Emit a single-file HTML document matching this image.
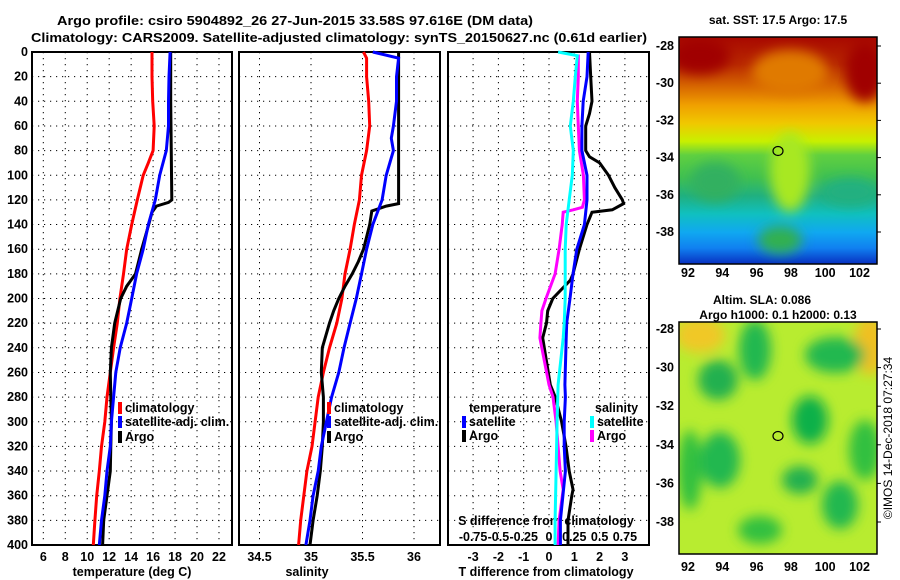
<!DOCTYPE html>
<html><head><meta charset="utf-8">
<style>
html,body{margin:0;padding:0;background:#fff;}
svg{display:block;font-family:"Liberation Sans",sans-serif;font-weight:bold;}
</style></head>
<body>
<svg id="fig" width="900" height="580" viewBox="0 0 900 580" xmlns="http://www.w3.org/2000/svg">
<defs>
<linearGradient id="sstGrad" x1="0" y1="0" x2="0" y2="1">
<stop offset="0" stop-color="#a80800"/><stop offset="0.12" stop-color="#b82800"/>
<stop offset="0.22" stop-color="#d86800"/><stop offset="0.3" stop-color="#f0a000"/>
<stop offset="0.38" stop-color="#f0c800"/><stop offset="0.46" stop-color="#c8f000"/>
<stop offset="0.52" stop-color="#60d040"/><stop offset="0.62" stop-color="#40c050"/>
<stop offset="0.7" stop-color="#20b080"/><stop offset="0.78" stop-color="#10c0c0"/>
<stop offset="0.86" stop-color="#10a8f0"/><stop offset="0.93" stop-color="#1080f0"/>
<stop offset="1" stop-color="#0830c0"/></linearGradient>
<filter id="blur6"><feGaussianBlur stdDeviation="6"/></filter>
<clipPath id="clipMap1"><rect x="679" y="37" width="198" height="227"/></clipPath>
<clipPath id="clipMap2"><rect x="679" y="322" width="198" height="232"/></clipPath>
</defs>
<text x="57" y="25" font-size="13" textLength="476" lengthAdjust="spacingAndGlyphs">Argo profile: csiro 5904892_26 27-Jun-2015 33.58S 97.616E (DM data)</text>
<text x="31" y="42" font-size="13" textLength="616" lengthAdjust="spacingAndGlyphs">Climatology: CARS2009. Satellite-adjusted climatology: synTS_20150627.nc (0.61d earlier)</text>

<g>
<g clip-path="url(#clipMap1)">
<rect x="679" y="37" width="198" height="227" fill="url(#sstGrad)"/>
<g filter="url(#blur6)">
<ellipse cx="790" cy="72" rx="38" ry="22" fill="#e07a00"/>
<ellipse cx="700" cy="56" rx="30" ry="18" fill="#a00000"/>
<ellipse cx="865" cy="72" rx="20" ry="30" fill="#a00000"/>
<ellipse cx="715" cy="182" rx="25" ry="20" fill="#30b060"/>
<ellipse cx="850" cy="192" rx="28" ry="14" fill="#20b080"/>
<ellipse cx="790" cy="172" rx="20" ry="40" fill="#a8e820"/>
<ellipse cx="780" cy="240" rx="22" ry="14" fill="#30b050"/>
</g></g>
<rect x="679" y="37" width="198" height="227" fill="none" stroke="#000" stroke-width="1.5"/>
<ellipse cx="778" cy="151" rx="5" ry="4.5" fill="none" stroke="#000" stroke-width="1.2"/>
</g>
<text x="778" y="24" font-size="12" text-anchor="middle">sat. SST: 17.5 Argo: 17.5</text>

<g>
<g clip-path="url(#clipMap2)">
<rect x="679" y="322" width="198" height="232" fill="#b8ec30"/>
<g filter="url(#blur6)">
<ellipse cx="700" cy="335" rx="25" ry="18" fill="#f0c828"/>
<ellipse cx="870" cy="345" rx="16" ry="30" fill="#f0c020"/>
<ellipse cx="755" cy="350" rx="16" ry="30" fill="#20b850"/>
<ellipse cx="718" cy="380" rx="20" ry="20" fill="#20b050"/>
<ellipse cx="835" cy="355" rx="30" ry="18" fill="#20b850"/>
<ellipse cx="810" cy="420" rx="18" ry="24" fill="#10b048"/>
<ellipse cx="720" cy="460" rx="20" ry="28" fill="#20b850"/>
<ellipse cx="800" cy="480" rx="18" ry="14" fill="#20b050"/>
<ellipse cx="840" cy="505" rx="18" ry="24" fill="#20b850"/>
<ellipse cx="760" cy="530" rx="22" ry="14" fill="#30c040"/>
<ellipse cx="865" cy="450" rx="16" ry="30" fill="#30c040"/>
<ellipse cx="690" cy="470" rx="12" ry="40" fill="#30c040"/>
</g></g>
<rect x="679" y="322" width="198" height="232" fill="none" stroke="#000" stroke-width="1.5"/>
<ellipse cx="778" cy="436" rx="5" ry="4.5" fill="none" stroke="#000" stroke-width="1.2"/>
</g>
<text x="762" y="304" font-size="12" text-anchor="middle">Altim. SLA: 0.086</text>
<text x="778" y="319" font-size="12" text-anchor="middle">Argo h1000: 0.1 h2000: 0.13</text>
<text transform="translate(892,438) rotate(-90)" font-size="12" font-weight="normal" text-anchor="middle">©IMOS 14-Dec-2018 07:27:34</text>
<g id="dyn"></g>
</svg>
<script>
// ---- data ----
const depthAxisTicks = [0,20,40,60,80,100,120,140,160,180,200,220,240,260,280,300,320,340,360,380,400];
const tempTicks = [6,8,10,12,14,16,18,20,22];
const salTicks = [34.5,35,35.5,36];
const tdiffTicks = [-3,-2,-1,0,1,2,3];
const sdiffTicks = [-0.75,-0.5,-0.25,0,0.25,0.5,0.75];
const sdiffTickLabels = ["-0.75","-0.5","-0.25","0","0.25","0.5","0.75"];
const latTicks = [-28,-30,-32,-34,-36,-38];
const lonTicks = [92,94,96,98,100,102];

const tClimDepth = [0,20,40,60,80,90,100,120,140,160,180,200,220,240,260,280,300,320,340,360,380,400];
const tClimVal   = [15.9,15.9,15.96,16.1,16.0,15.56,15.1,14.56,14.05,13.6,13.3,12.98,12.74,12.4,12.1,11.8,11.6,11.3,11.1,10.86,10.7,10.55];
const tSatDepth = [0,20,40,60,80,100,120,140,160,180,200,220,240,260,280,300,320,340,360,380,400];
const tSatVal   = [17.55,17.45,17.4,17.4,17.2,16.6,16.2,15.56,15.1,14.5,14.05,13.6,13.0,12.6,12.4,12.2,12.1,11.8,11.6,11.3,11.1];
const tArgoDepth = [0,40,120,122,125,130,140,160,180,190,200,220,240,260,280,300,320,340,360,380,400];
const tArgoVal   = [17.6,17.6,17.7,17.4,16.3,15.9,15.6,14.96,14.4,13.6,13.05,12.5,12.2,12.1,12.15,12.2,12.15,12.1,11.8,11.5,11.4];

const sClimDepth = [0,5,20,40,60,80,100,120,140,160,180,200,220,240,260,280,300,320,340,360,380,400];
const sClimVal   = [35.51,35.54,35.54,35.56,35.57,35.54,35.49,35.47,35.42,35.38,35.33,35.3,35.25,35.18,35.12,35.07,35.04,35.01,34.96,34.93,34.9,34.88];
const sSatDepth = [0,5,20,40,60,70,80,100,120,140,160,180,200,220,240,260,280,300,320,340,360,380,400];
const sSatVal   = [35.6,35.85,35.83,35.83,35.8,35.78,35.8,35.73,35.69,35.6,35.54,35.49,35.44,35.38,35.32,35.27,35.2,35.15,35.1,35.07,35.02,34.99,34.95];
const sArgoDepth = [0,123,125,129,140,160,170,180,190,200,210,220,240,260,280,300,320,340,360,380,400];
const sArgoVal   = [35.85,35.85,35.73,35.59,35.57,35.51,35.46,35.4,35.33,35.27,35.22,35.18,35.11,35.1,35.12,35.12,35.11,35.09,35.06,35.02,34.99];

const dTSatDepth = [0,20,40,60,80,100,120,140,160,180,200,220,232,270,280,300,320,340,360,380,400];
const dTSatVal   = [1.55,1.5,1.35,1.3,1.3,1.5,1.5,1.4,1.1,0.95,0.83,0.7,0.68,0.63,0.65,0.6,0.6,0.65,0.55,0.45,0.45];
const dTArgoDepth = [0,20,40,50,60,80,85,90,100,110,120,123,128,130,140,160,180,185,200,210,220,232,270,280,300,320,340,355,360,380,400];
const dTArgoVal   = [1.6,1.65,1.7,1.6,1.45,1.45,1.6,2.0,2.35,2.6,2.9,2.95,2.5,1.7,1.5,1.2,0.95,0.85,0.15,-0.05,-0.1,-0.25,0.05,0.25,0.5,0.67,0.8,0.95,0.9,0.75,0.75];
const dSSatDepth = [0,3,20,40,60,80,100,120,140,160,180,200,220,232,270,300,320,340,380,400];
const dSSatVal   = [0.09,0.28,0.26,0.24,0.21,0.24,0.23,0.2,0.17,0.16,0.16,0.16,0.15,0.14,0.09,0.08,0.075,0.07,0.06,0.06];
const dSArgoDepth = [2,20,40,60,80,100,120,126,128,130,140,160,180,200,210,220,232,270,280,300,320,340,355,380,400];
const dSArgoVal   = [0.29,0.29,0.28,0.29,0.3,0.34,0.35,0.33,0.24,0.14,0.13,0.1,0.06,-0.03,-0.07,-0.08,-0.09,0.0,0.04,0.07,0.09,0.11,0.14,0.1,0.09];

// ---- axes ----
const Y0 = 52, Y1 = 545;
const yDepth = d => Y0 + d*(Y1-Y0)/400;
const P1 = {x0:32, x1:232, f:t => 43.3 + (t-6)*10.98};
const P2 = {x0:239, x1:440, f:s => 311 + (s-35)*103};
const P3 = {x0:448, x1:649, f:t => 549 + t*25.3};
const sdX = s => 549 + s*101.2;
const lonX = lo => 688 + (lo-92)*17.15;
const lat1Y = la => 46 + (-28-la)*18.6;
const lat2Y = la => 329 + (-28-la)*19.3;

const NS = "http://www.w3.org/2000/svg";
const dyn = document.getElementById('dyn');
const FS = 12.5;
function mk(tag, attrs, parent){
  const e = document.createElementNS(NS, tag);
  for (const k in attrs) e.setAttribute(k, attrs[k]);
  (parent||dyn).appendChild(e);
  return e;
}
function txt(str, x, y, size, anchor){
  const t = mk('text', {x:x, y:y, 'font-size':size, 'text-anchor':anchor||'middle', 'dominant-baseline':'central'});
  t.textContent = str;
  return t;
}

function panel(P, ticks, name){
  const g = mk('g', {});
  
  
  depthAxisTicks.forEach(d => {
    if (d===0||d===400) return;
    const l = mk('line', {x1:P.x0, x2:P.x1, y1:yDepth(d), y2:yDepth(d), stroke:'#000', 'stroke-width':1, 'stroke-dasharray':'1.2,4.8'}, g);
    
    
  });
  ticks.forEach(v => {
    const x = P.f(v);
    const l = mk('line', {x1:x, x2:x, y1:Y0, y2:Y1, stroke:'#000', 'stroke-width':1, 'stroke-dasharray':'1.2,4.8'}, g);
    
    
  });
  const r = mk('rect', {x:P.x0, y:Y0, width:P.x1-P.x0, height:Y1-Y0, fill:'none', stroke:'#000', 'stroke-width':2}, g);
  
  
}
panel(P1, tempTicks, 'temperature');
panel(P2, salTicks, 'salinity');
panel(P3, tdiffTicks, 'difference');

depthAxisTicks.forEach(d => {
  const t = txt(String(d), 28, yDepth(d), FS, 'end');
  
  
});
tempTicks.forEach(v => { const t = txt(String(v), P1.f(v), 557, FS);
  
   });
salTicks.forEach(v => { const t = txt(String(v), P2.f(v), 557, FS);
  
   });
tdiffTicks.forEach(v => { const t = txt(String(v), P3.f(v), 557, FS);
  
   });
sdiffTicks.forEach((v,i) => { const t = txt(sdiffTickLabels[i], sdX(v), 537, FS);
  
   });
let a;
a = txt('temperature (deg C)', 132, 572, FS);


a = txt('salinity', 307, 572, FS);


a = txt('T difference from climatology', 546, 572, FS);


a = txt('S difference from climatology', 546, 521, FS);



function series(depths, vals, fx, color, name){
  const pts = depths.map((d,i) => fx(vals[i]).toFixed(1)+','+yDepth(d).toFixed(1)).join(' ');
  const p = mk('polyline', {points:pts, fill:'none', stroke:color, 'stroke-width':3, 'stroke-linejoin':'miter'});
  
  
}
series(tClimDepth, tClimVal, P1.f, '#ff0000', 'temperature-climatology-line');
series(tArgoDepth, tArgoVal, P1.f, '#000000', 'temperature-argo-line');
series(tSatDepth, tSatVal, P1.f, '#0000ff', 'temperature-satellite-line');
series(sClimDepth, sClimVal, P2.f, '#ff0000', 'salinity-climatology-line');
series(sArgoDepth, sArgoVal, P2.f, '#000000', 'salinity-argo-line');
series(sSatDepth, sSatVal, P2.f, '#0000ff', 'salinity-satellite-line');
series(dTArgoDepth, dTArgoVal, P3.f, '#000000', 't-diff-argo-line');
series(dSArgoDepth, dSArgoVal, sdX, '#ff00ff', 's-diff-argo-line');
series(dTSatDepth, dTSatVal, P3.f, '#0000ff', 't-diff-satellite-line');
series(dSSatDepth, dSSatVal, sdX, '#00ffff', 's-diff-satellite-line');

function legendEntry(x, y, color, label){
  const r = mk('rect', {x:x, y:y-6, width:4, height:12, fill:color});
  
  
  const t = txt(label, x+7, y, FS, 'start');
  
  
}
legendEntry(118, 408, '#ff0000', 'climatology');
legendEntry(118, 422, '#0000ff', 'satellite-adj. clim.');
legendEntry(118, 437, '#000000', 'Argo');
legendEntry(327, 408, '#ff0000', 'climatology');
legendEntry(327, 422, '#0000ff', 'satellite-adj. clim.');
legendEntry(327, 437, '#000000', 'Argo');
a = txt('temperature', 469, 408, FS, 'start');


legendEntry(462, 422, '#0000ff', 'satellite');
legendEntry(462, 436, '#000000', 'Argo');
a = txt('salinity', 595, 408, FS, 'start');


legendEntry(590, 422, '#00ffff', 'satellite');
legendEntry(590, 436, '#ff00ff', 'Argo');

latTicks.forEach(la => {
  let t = txt(String(la), 674, lat1Y(la), FS, 'end');
  
  
  t = txt(String(la), 674, lat2Y(la), FS, 'end');
  
  
  let l = mk('line', {x1:877, x2:881, y1:lat1Y(la), y2:lat1Y(la), stroke:'#000'});
  
  
  l = mk('line', {x1:877, x2:881, y1:lat2Y(la), y2:lat2Y(la), stroke:'#000'});
  
  
});
lonTicks.forEach(lo => {
  let t = txt(String(lo), lonX(lo), 273, FS);
  
  
  t = txt(String(lo), lonX(lo), 567, FS);
  
  
});
</script>
</body></html>
